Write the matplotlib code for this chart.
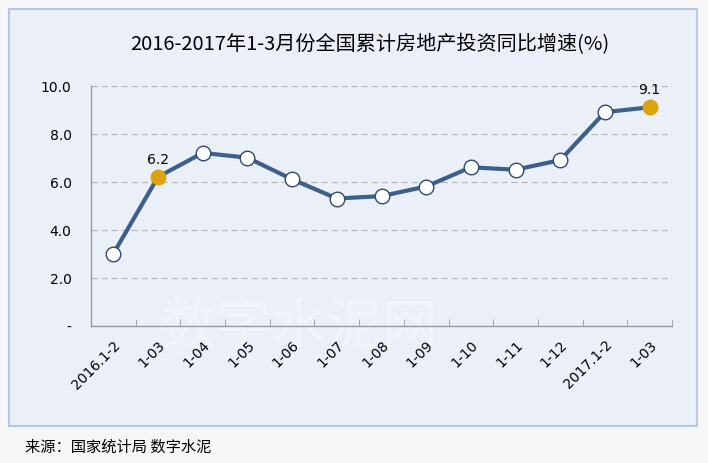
import matplotlib.pyplot as plt
from matplotlib.patches import Rectangle

plt.rcParams['font.family'] = ['DejaVu Sans', 'Noto Sans CJK SC']

# 数据
labels = ['2016.1-2', '1-03', '1-04', '1-05', '1-06', '1-07', '1-08',
          '1-09', '1-10', '1-11', '1-12', '2017.1-2', '1-03']
values = [3.0, 6.2, 7.2, 7.0, 6.1, 5.3, 5.4, 5.8, 6.6, 6.5, 6.9, 8.9, 9.1]
highlight = [1, 12]
yticks = [0, 2, 4, 6, 8, 10]
ytick_labels = ['-', '2.0', '4.0', '6.0', '8.0', '10.0']
title = '2016-2017年1-3月份全国累计房地产投资同比增速(%)'
source = '来源：国家统计局 数字水泥'

W, H = 708, 464
fig = plt.figure(figsize=(W / 100, H / 100), dpi=100)
fig.patch.set_facecolor('#f6f6f6')

# inner panel
panel = Rectangle((9 / W, 1 - 427 / H), (697 - 9) / W, (427 - 10) / H,
                  transform=fig.transFigure, facecolor='#ebf0f8',
                  edgecolor='#b4c8e0', linewidth=1.5, zorder=-5)
fig.patches.append(panel)

# faint watermark
fig.text(300 / W, 1 - 328 / H, '数字水泥网', fontsize=40, color='white', alpha=0.3,
         ha='center', va='center', family=['Noto Sans CJK SC'], zorder=-4)

ax = fig.add_axes([91 / W, 1 - 326.7 / H, (672 - 91) / W, (326.7 - 86.7) / H])
ax.set_facecolor('none')
ax.set_zorder(2)

x = list(range(len(values)))
ax.plot(x, values, color='#3c5f8c', linewidth=3, zorder=3)
normal = [i for i in x if i not in highlight]
ax.scatter(normal, [values[i] for i in normal], s=110, facecolor='white',
           edgecolor='#2f4a6e', linewidth=1, zorder=4)
ax.scatter(highlight, [values[i] for i in highlight], s=110, facecolor='#d9a40c',
           edgecolor='#d9a40c', linewidth=1, zorder=4)
for i in highlight:
    ax.annotate('%.1f' % values[i], (i, values[i]), xytext=(0, 8),
                textcoords='offset points', ha='center', va='bottom', fontsize=10)

ax.set_xlim(-0.5, len(values) - 0.5)
ax.set_ylim(0, 10)
ax.set_yticks(yticks)
ax.set_yticklabels(ytick_labels, fontsize=10)
ax.yaxis.grid(True, linestyle=(0, (5, 3)), color='#b8b8b8', linewidth=0.9)
ax.set_axisbelow(True)

ax.set_xticks(x)
ax.set_xticklabels(labels, rotation=45, ha='right', rotation_mode='anchor', fontsize=10)
ax.tick_params(axis='x', length=0, pad=8)
ax.set_xticks([i - 0.5 for i in range(len(values) + 1)], minor=True)
ax.tick_params(axis='x', which='minor', length=5, color='#999999', direction='in')
ax.tick_params(axis='y', length=0, pad=14)

for s in ['top', 'right']:
    ax.spines[s].set_visible(False)
for s in ['left', 'bottom']:
    ax.spines[s].set_color('#9a9a9a')
    ax.spines[s].set_linewidth(1)

fig.text(370 / W, 1 - 45 / H, title, fontsize=14.5, ha='center', va='center',
         family=['Noto Sans CJK SC', 'DejaVu Sans'])
fig.text(25 / W, 1 - 447 / H, source, fontsize=11, ha='left', va='center',
         family=['Noto Sans CJK SC', 'DejaVu Sans'])

fig.savefig('out.png', dpi=100, facecolor=fig.get_facecolor())
